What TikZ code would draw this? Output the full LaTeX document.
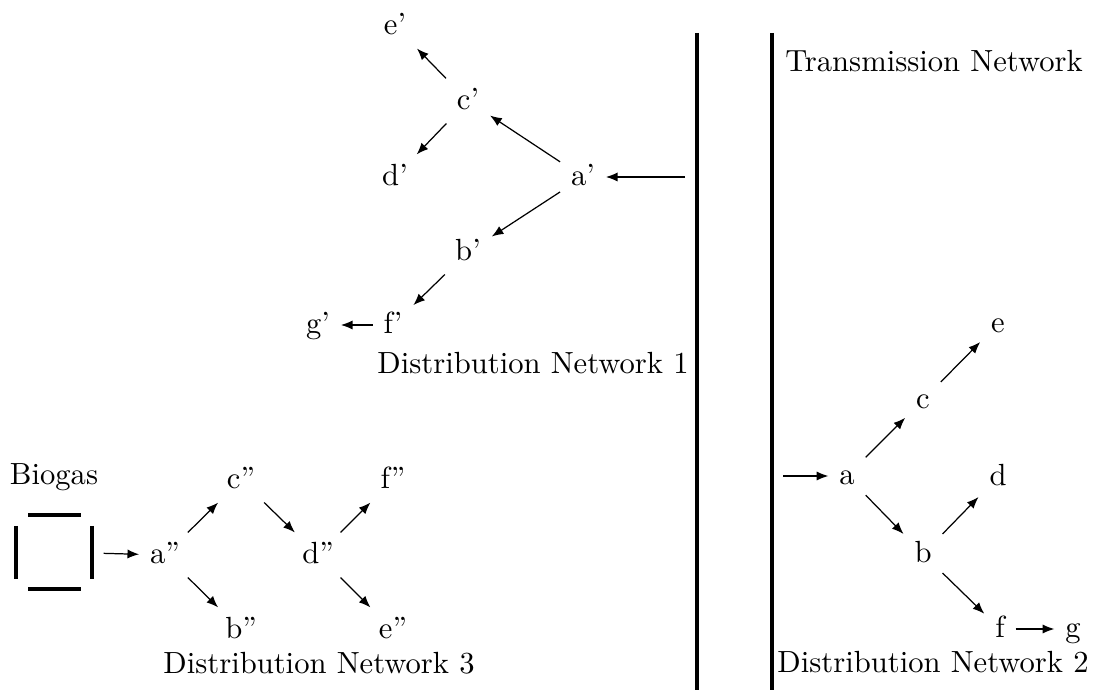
\documentclass[tikz,border=0pt]{standalone}
\usetikzlibrary{arrows.meta,calc}
\begin{document}
\begin{tikzpicture}[x=0.3267pt,y=-0.3267pt,
  v/.style={inner sep=3.4pt, text height=1.5ex, text depth=.25ex},
  lab/.style={inner sep=0pt, anchor=base},
  arr/.style={-{Latex[length=3.8pt,width=3pt]}, line width=0.4pt},
  wall/.style={line width=1.3pt},
  bar/.style={line width=1.3pt}]
\useasboundingbox (0,0) rectangle (1098,690);

% walls
\coordinate (w1t) at (697,33);
\coordinate (w1b) at (697,690);
\coordinate (w2t) at (772,33);
\coordinate (w2b) at (772,690);
\draw[wall] (w1t) -- (w1b);
\draw[wall] (w2t) -- (w2b);

\node[lab] (tn) at (934,72) {Transmission Network};

% Distribution network 1
\node[v] (a1) at (583,177) {a'};
\node[v] (c1) at (468,101) {c'};
\node[v] (e1) at (395,26) {e'};
\node[v] (d1) at (395,177) {d'};
\node[v] (b1) at (468,252) {b'};
\node[v] (f1) at (393,325) {f'};
\node[v] (g1) at (318,325) {g'};
\node[lab] (dn1) at (533,374) {Distribution Network 1};
\coordinate (in1) at (685,177);
\draw[arr] (in1) -- (a1);
\draw[arr] (a1) -- (c1);
\draw[arr] (c1) -- (e1);
\draw[arr] (c1) -- (d1);
\draw[arr] (a1) -- (b1);
\draw[arr] (b1) -- (f1);
\draw[arr] (f1) -- (g1);

% Distribution network 2
\node[v] (a2) at (847,476) {a};
\node[v] (c2) at (923,400) {c};
\node[v] (e2) at (998,324) {e};
\node[v] (d2) at (998,477) {d};
\node[v] (b2) at (923,554) {b};
\node[v] (f2) at (1000,629) {f};
\node[v] (g2) at (1073,629) {g};
\node[lab] (dn2) at (933,673) {Distribution Network 2};
\coordinate (in2) at (783,476);
\draw[arr] (in2) -- (a2);
\draw[arr] (a2) -- (c2);
\draw[arr] (c2) -- (e2);
\draw[arr] (a2) -- (b2);
\draw[arr] (b2) -- (d2);
\draw[arr] (b2) -- (f2);
\draw[arr] (f2) -- (g2);

% Distribution network 3
\node[lab] (bio) at (54,485) {Biogas};
\node[inner sep=0pt, minimum width=98*0.3267pt, minimum height=76*0.3267pt] (box) at (54,552) {};
\draw[bar] ($(box.center)+(-26,-37)$) -- ($(box.center)+(27,-37)$);
\draw[bar] ($(box.center)+(-26,37)$) -- ($(box.center)+(27,37)$);
\draw[bar] ($(box.center)+(-38,-26)$) -- ($(box.center)+(-38,27)$);
\draw[bar] ($(box.center)+(38,-26)$) -- ($(box.center)+(38,27)$);
\node[v] (a3) at (165,555) {a''};
\node[v] (c3) at (241,480) {c''};
\node[v] (b3) at (241,630) {b''};
\node[v] (d3) at (318,555) {d''};
\node[v] (f3) at (393,480) {f''};
\node[v] (e3) at (393,630) {e''};
\node[lab] (dn3) at (319,674) {Distribution Network 3};
\draw[arr] (box) -- (a3);
\draw[arr] (a3) -- (c3);
\draw[arr] (a3) -- (b3);
\draw[arr] (c3) -- (d3);
\draw[arr] (d3) -- (f3);
\draw[arr] (d3) -- (e3);
\end{tikzpicture}
\end{document}
